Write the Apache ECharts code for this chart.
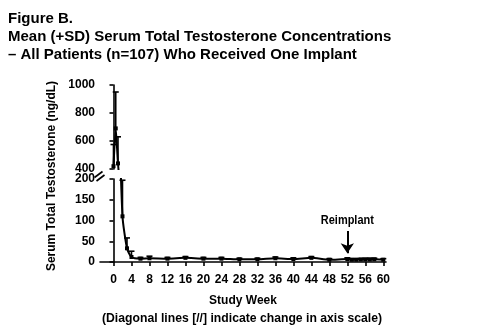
<!DOCTYPE html>
<html>
<head>
<meta charset="utf-8">
<script src="https://cdn.jsdelivr.net/npm/echarts@6/dist/echarts.min.js"></script>
<style>
html,body{margin:0;padding:0;background:#fff;}
#c{width:480px;height:328px;}
</style>
</head>
<body>
<div id="c"></div>
<script>
// Data
const weeks  = [0, 0.5, 1, 2, 3, 4, 6, 8, 12, 16, 20, 24, 28, 32, 36, 40, 44, 48, 52, 53, 54, 55, 56, 57, 58, 60];
const means  = [420, 690, 440, 110, 33, 12, 8, 9, 8, 10, 8, 8, 6.5, 6.5, 9, 7, 10, 5.5, 7, 5.5, 5.5, 6, 6, 6, 6.5, 5.5];
const sdTops = [575, 950, 630, 197, 58, 26, 11, 14, 11, 13, 11, 11, 9, 9, 12, 10, 13, 8, 10, 8, 8, 8.5, 9, 9, 9, 8];
const xTicks = [0, 4, 8, 12, 16, 20, 24, 28, 32, 36, 40, 44, 48, 52, 56, 60];
const upperTicks = [400, 600, 800, 1000];
const lowerTicks = [0, 50, 100, 150, 200];
const reimplantWeek = 52;
const reimplantArrow = [75, 21];
const reimplantLabelValue = 99;

const FONT = '"Liberation Sans", Arial, sans-serif';

const points = weeks.map((w, i) => [w, means[i]]);
const errs = weeks.map((w, i) => [w, means[i], sdTops[i]]);
const errsUpper = errs.filter(d => d[1] >= 400);
const errsLower = errs.filter(d => d[1] < 400);

function renderErr(params, api) {
  const x = api.value(0), m = api.value(1), t = api.value(2);
  const p0 = api.coord([x, m]), p1 = api.coord([x, t]);
  const w = 3;
  return {
    type: 'group',
    children: [
      {type: 'line', shape: {x1: p0[0], y1: p0[1], x2: p1[0], y2: p1[1]}, style: {stroke: '#000', lineWidth: 1.6}},
      {type: 'line', shape: {x1: p1[0] - w, y1: p1[1], x2: p1[0] + w, y2: p1[1]}, style: {stroke: '#000', lineWidth: 1.6}}
    ]
  };
}

// measure text to make a condensed look
const mctx = document.createElement('canvas').getContext('2d');
function scaleFor(text, font, target) {
  mctx.font = font;
  return target / mctx.measureText(text).width;
}

const chart = echarts.init(document.getElementById('c'), null, {renderer: 'canvas'});

const tickStyle = {color: '#000', width: 1.6};
const labelBase = {color: '#000', fontFamily: FONT, fontWeight: 'bold', fontSize: 12, margin: 5};

const X_MIN = -3, X_MAX = 60.6;

const noteText = '(Diagonal lines [//] indicate change in axis scale)';
const noteFont = 'bold 13px ' + FONT;
const reText = 'Reimplant';
const reFont = 'bold 13px ' + FONT;

chart.setOption({
  animation: false,
  backgroundColor: '#fff',
  title: {
    text: 'Figure B.\nMean (+SD) Serum Total Testosterone Concentrations\n– All Patients (n=107) Who Received One Implant',
    left: 3, top: 5,
    textStyle: {color: '#000', fontFamily: FONT, fontWeight: 'bold', fontSize: 15, lineHeight: 18}
  },
  grid: [
    {left: 100, top: 85, width: 286, height: 84},
    {left: 100, top: 179, width: 286, height: 83}
  ],
  xAxis: [
    {gridIndex: 0, type: 'value', min: X_MIN, max: X_MAX, show: false},
    {
      gridIndex: 1, type: 'value', min: X_MIN, max: X_MAX,
      name: 'Study Week', nameLocation: 'middle', nameGap: 33,
      nameTextStyle: {color: '#000', fontFamily: FONT, fontWeight: 'bold', fontSize: 12},
      axisLine: {show: true, lineStyle: tickStyle},
      splitLine: {show: false},
      axisTick: {show: true, length: 4, lineStyle: tickStyle, customValues: xTicks},
      axisLabel: Object.assign({}, labelBase, {customValues: xTicks, margin: 12})
    }
  ],
  yAxis: [
    {
      gridIndex: 0, type: 'value', min: 400, max: 1000, interval: 200,
      axisLine: {show: true, lineStyle: tickStyle},
      splitLine: {show: false},
      axisTick: {show: true, length: 4, lineStyle: tickStyle, customValues: upperTicks},
      axisLabel: Object.assign({}, labelBase, {customValues: upperTicks, formatter: v => String(v)})
    },
    {
      gridIndex: 1, type: 'value', min: 0, max: 200, interval: 50,
      axisLine: {show: true, lineStyle: tickStyle},
      splitLine: {show: false},
      axisTick: {show: true, length: 4, lineStyle: tickStyle, customValues: lowerTicks},
      axisLabel: Object.assign({}, labelBase, {customValues: lowerTicks, formatter: v => String(v)})
    }
  ],
  series: [
    {type: 'line', xAxisIndex: 0, yAxisIndex: 0, data: points, clip: true, smooth: 0.2,
     symbol: 'rect', symbolSize: 4, lineStyle: {color: '#000', width: 2}, itemStyle: {color: '#000'}},
    {type: 'line', xAxisIndex: 1, yAxisIndex: 1, data: points, clip: true, smooth: 0.2,
     symbol: 'rect', symbolSize: 4, lineStyle: {color: '#000', width: 2}, itemStyle: {color: '#000'},
     markLine: {
       silent: true, symbol: ['none', 'arrow'], symbolSize: 10,
       lineStyle: {color: '#000', width: 2, type: 'solid'},
       label: {show: false},
       data: [[{coord: [reimplantWeek, reimplantArrow[0]]}, {coord: [reimplantWeek, reimplantArrow[1]]}]]
     }},
    {type: 'custom', xAxisIndex: 0, yAxisIndex: 0, data: errsUpper, renderItem: renderErr, z: 3},
    {type: 'custom', xAxisIndex: 1, yAxisIndex: 1, data: errsLower, renderItem: renderErr, z: 3}
  ]
});

const rePos = chart.convertToPixel({xAxisIndex: 1, yAxisIndex: 1}, [reimplantWeek, reimplantLabelValue]);
const noteScale = scaleFor(noteText, noteFont, 280);
const reScale = scaleFor(reText, reFont, 53);

chart.setOption({
  graphic: [
    {type: 'text', x: 242, y: 318, scaleX: noteScale, scaleY: 1,
     style: {text: noteText, fill: '#000', font: noteFont, align: 'center', verticalAlign: 'middle'}},
    {type: 'text', x: rePos[0], y: rePos[1], scaleX: reScale, scaleY: 1,
     style: {text: reText, fill: '#000', font: reFont, align: 'center', verticalAlign: 'middle'}},
    {type: 'text', x: 52, y: 176, rotation: Math.PI / 2,
     style: {text: 'Serum Total Testosterone (ng/dL)', fill: '#000', font: 'bold 12px ' + FONT, align: 'center', verticalAlign: 'middle'}},
    {type: 'line', shape: {x1: 94.5, y1: 177.5, x2: 102.5, y2: 171.5}, style: {stroke: '#000', lineWidth: 1.6}},
    {type: 'line', shape: {x1: 96.5, y1: 181, x2: 104.5, y2: 175}, style: {stroke: '#000', lineWidth: 1.6}}
  ]
});
</script>
</body>
</html>
